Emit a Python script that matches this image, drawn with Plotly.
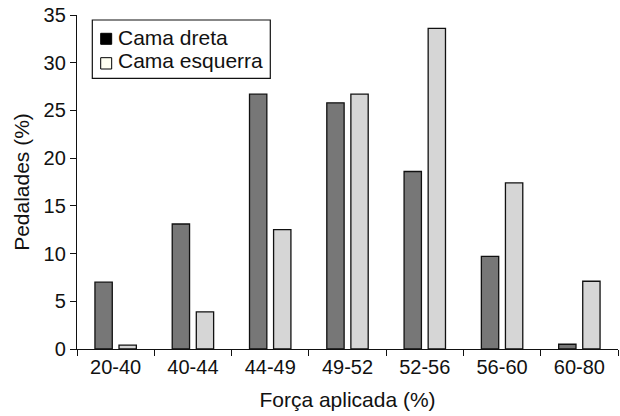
import plotly.graph_objects as go

categories = ["20-40", "40-44", "44-49", "49-52", "52-56", "56-60", "60-80"]
cama_dreta = [7.0, 13.1, 26.7, 25.8, 18.6, 9.7, 0.5]
cama_esquerra = [0.4, 3.9, 12.5, 26.7, 33.6, 17.4, 7.1]
y_ticks = [0, 5, 10, 15, 20, 25, 30, 35]
series_names = ["Cama dreta", "Cama esquerra"]

FONT = "Liberation Sans, Arial, Helvetica, sans-serif"
INK = "#111111"

fig = go.Figure()
fig.add_trace(go.Bar(x=categories, y=cama_dreta, name=series_names[0],
                     marker=dict(color="#777777", line=dict(color=INK, width=1.3)),
                     showlegend=False))
fig.add_trace(go.Bar(x=categories, y=cama_esquerra, name=series_names[1],
                     marker=dict(color="#d6d6d6", line=dict(color=INK, width=1.3)),
                     showlegend=False))

# Legend (drawn as a boxed key so its tight row spacing matches the reference)
shapes = [
    dict(type="rect", xref="paper", yref="paper", x0=0.0283, x1=0.3573, y0=0.8105, y1=0.985,
         line=dict(color=INK, width=1.2), fillcolor="white", layer="above"),
    dict(type="rect", xref="paper", yref="paper", x0=0.0438, x1=0.0641, y0=0.9123, y1=0.9452,
         line=dict(color="#000000", width=1), fillcolor="#000000", layer="above"),
    dict(type="rect", xref="paper", yref="paper", x0=0.0438, x1=0.0641, y0=0.8383, y1=0.8722,
         line=dict(color="#000000", width=1), fillcolor="#fffff2", layer="above"),
]
annotations = [
    dict(text=series_names[0], xref="paper", yref="paper", x=0.0715, y=0.9326,
         xanchor="left", yanchor="middle", showarrow=False,
         font=dict(family=FONT, size=21, color=INK)),
    dict(text=series_names[1], xref="paper", yref="paper", x=0.0715, y=0.8623,
         xanchor="left", yanchor="middle", showarrow=False,
         font=dict(family=FONT, size=21, color=INK)),
]

fig.update_layout(
    width=620, height=416,
    margin=dict(l=77, r=2, t=15, b=67),
    paper_bgcolor="white", plot_bgcolor="white",
    font=dict(family=FONT, size=20, color=INK),
    barmode="group", bargap=0.377, bargroupgap=0.28,
    showlegend=False,
    shapes=shapes, annotations=annotations,
    xaxis=dict(type="category", showline=True, linecolor=INK, linewidth=1.3,
               ticks="outside", tickson="boundaries", ticklen=6, tickcolor=INK,
               tickwidth=1.3, showgrid=False, zeroline=False, automargin=False,
               tickfont=dict(family=FONT, size=20),
               title=dict(text="Força aplicada (%)", standoff=15,
                          font=dict(family=FONT, size=21))),
    yaxis=dict(range=[0, 35], tickvals=y_ticks, showline=True, linecolor=INK,
               linewidth=1.3, ticks="outside", ticklen=6, tickcolor=INK,
               tickwidth=1.3, showgrid=False, zeroline=False, automargin=False,
               tickfont=dict(family=FONT, size=20),
               title=dict(text="Pedalades (%)", standoff=8,
                          font=dict(family=FONT, size=21))),
)

# remove the browser's default 8px body margin so the figure fills the window
fig.write_html("out.html", config={"displayModeBar": False},
               post_script="document.body.style.margin='0px';")
